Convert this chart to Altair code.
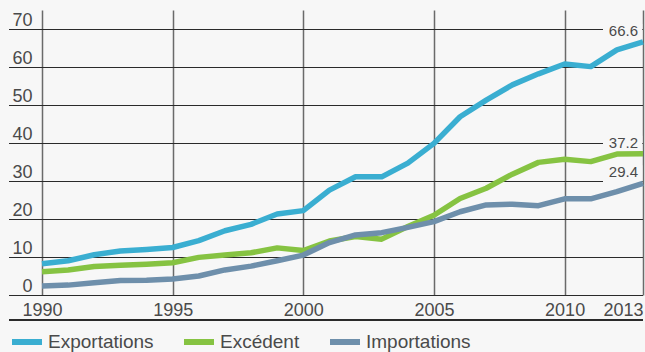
import altair as alt
import pandas as pd

years = list(range(1990, 2014))
exportations = [8.2, 9.0, 10.6, 11.6, 12.0, 12.5, 14.3, 16.9, 18.6, 21.3, 22.2, 27.6,
                31.1, 31.1, 34.7, 39.9, 46.9, 51.3, 55.3, 58.2, 60.8, 60.1, 64.5, 66.6]
excedent = [6.1, 6.6, 7.5, 7.8, 8.1, 8.5, 9.9, 10.5, 11.1, 12.4, 11.7, 14.2,
            15.4, 14.7, 18.0, 21.0, 25.4, 28.1, 31.8, 34.9, 35.7, 35.1, 37.1, 37.2]
importations = [2.4, 2.6, 3.2, 3.8, 3.9, 4.2, 5.0, 6.6, 7.6, 9.0, 10.5, 13.8,
                15.8, 16.4, 17.8, 19.3, 21.9, 23.7, 23.9, 23.5, 25.3, 25.3, 27.2, 29.4]

series_names = ["Exportations", "Excédent", "Importations"]
series_colors = ["#3aaed1", "#86c342", "#6e8fab"]
x_ticks = [1990, 1995, 2000, 2005, 2010, 2013]
y_ticks = [0, 10, 20, 30, 40, 50, 60, 70]

rows = []
for name, vals in zip(series_names, [exportations, excedent, importations]):
    for yr, v in zip(years, vals):
        rows.append({"year": yr, "value": v, "series": name})
df = pd.DataFrame(rows)
last = df[df["year"] == years[-1]].copy()
grid_df = pd.DataFrame({"value": y_ticks})

W, H = 601, 285
BG = "#f7f7f7"
FONT = "Liberation Sans"
TXT = "#4a4a4a"

xscale = alt.Scale(domain=[years[0], years[-1]], nice=False, zero=False)
yscale = alt.Scale(domain=[0, 75], nice=False, zero=False)

x_axis = alt.Axis(
    values=x_ticks, format="d", title=None, grid=True, gridColor="#6a6a6a",
    gridWidth=1.5, domain=False, ticks=False, labelFontSize=18, labelPadding=6,
    labelFont=FONT, labelColor=TXT,
    labelAlign=alt.expr("datum.value == 2013 ? 'right' : 'center'"))
y_axis = alt.Axis(
    values=y_ticks, title=None, grid=False, domain=False, ticks=False,
    labelFontSize=18, labelPadding=10, labelFont=FONT, labelColor=TXT,
    labelAlign="right", labelBaseline="alphabetic", labelOffset=-4)

x_enc = alt.X("year:Q", scale=xscale, axis=x_axis)
y_enc = alt.Y("value:Q", scale=yscale, axis=y_axis)

hgrid = alt.Chart(grid_df).mark_rule(color="#2a2a2a", strokeWidth=1, yOffset=0.5).encode(
    y=y_enc, x=alt.value(-33), x2=alt.value(W))

bottom_rule = alt.Chart(grid_df).mark_rule(color="#2a2a2a", strokeWidth=1.2).encode(
    y=alt.value(H + 25), x=alt.value(-33), x2=alt.value(W))

boxes = alt.Chart(last).mark_rule(color=BG, strokeWidth=17, strokeCap="butt",
                                  yOffset=-9.5).encode(
    y=y_enc, x=alt.value(561), x2=alt.value(W - 0.7))

lines = alt.Chart(df).mark_line(strokeWidth=5.5, strokeJoin="round").encode(
    x=x_enc, y=y_enc,
    color=alt.Color("series:N",
                    scale=alt.Scale(domain=series_names, range=series_colors),
                    sort=series_names,
                    legend=alt.Legend(title=None, orient="none", direction="horizontal",
                                      legendX=-33, legendY=314, symbolType="stroke",
                                      symbolSize=900, symbolStrokeWidth=6,
                                      labelFontSize=19, labelFont=FONT, labelColor=TXT,
                                      labelOffset=3, columnPadding=18)),
    order="year:Q")

labels = alt.Chart(last).mark_text(align="right", baseline="bottom", dx=-5, dy=-3,
                                   fontSize=15, font=FONT, color=TXT).encode(
    x=x_enc, y=y_enc,
    text=alt.Text("value:Q", format=".1f"))

chart = alt.layer(hgrid, bottom_rule, boxes, lines, labels).properties(
    width=W, height=H, background=BG,
    padding={"left": 42, "top": 10, "right": 2, "bottom": 57},
    autosize=alt.AutoSizeParams(type="none"),
).configure_view(stroke=None)

chart.save("out.html", embed_options={"renderer": "svg", "actions": False})
